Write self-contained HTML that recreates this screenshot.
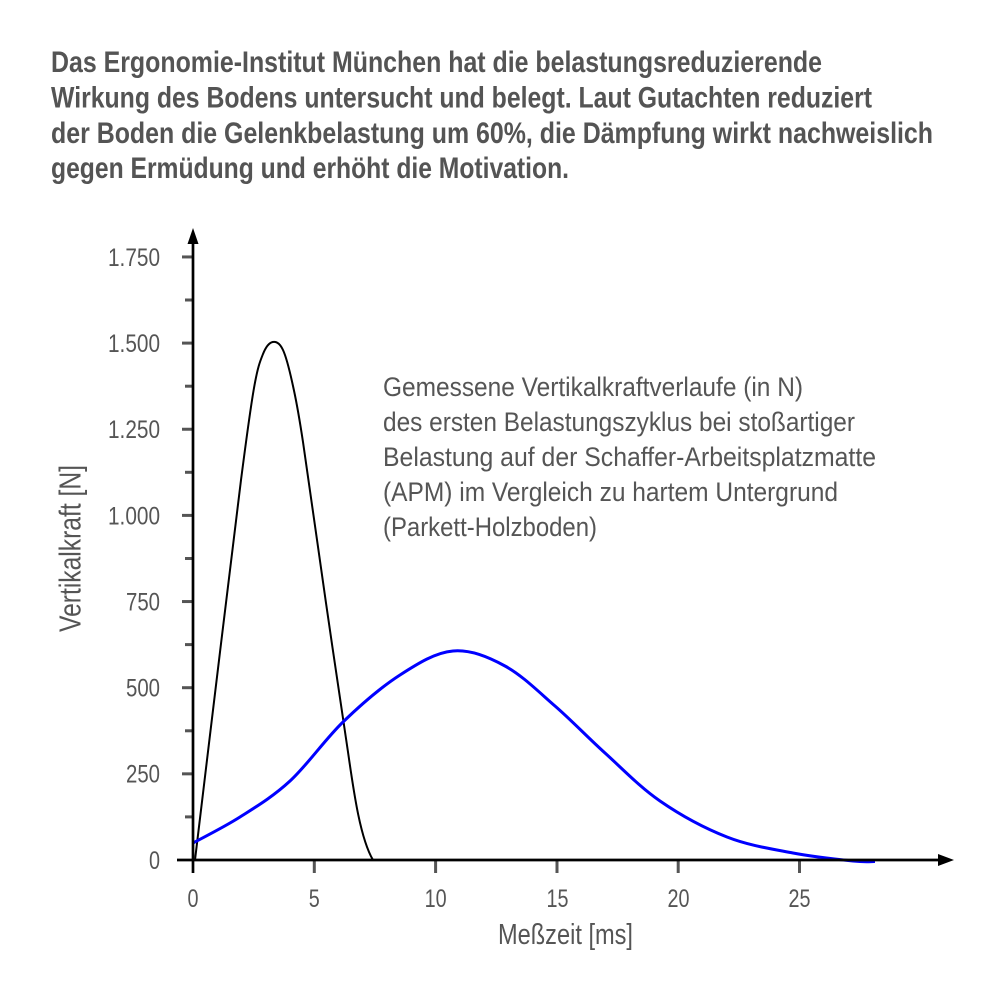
<!DOCTYPE html>
<html>
<head>
<meta charset="utf-8">
<style>
  html, body { margin: 0; padding: 0; background: #ffffff; }
  body { width: 1000px; height: 1000px; overflow: hidden; }
  svg { display: block; }
  text { font-family: "Liberation Sans", "DejaVu Sans", sans-serif; }
</style>
</head>
<body>
<svg width="1000" height="1000" viewBox="0 0 1000 1000" xmlns="http://www.w3.org/2000/svg">
  <rect x="0" y="0" width="1000" height="1000" fill="#ffffff"/>

  <!-- Title -->
  <g fill="#545454" font-weight="bold" font-size="30">
    <text x="51" y="72" textLength="771" lengthAdjust="spacingAndGlyphs">Das Ergonomie-Institut München hat die belastungsreduzierende</text>
    <text x="51" y="107.5" textLength="821" lengthAdjust="spacingAndGlyphs">Wirkung des Bodens untersucht und belegt. Laut Gutachten reduziert</text>
    <text x="51" y="143" textLength="882" lengthAdjust="spacingAndGlyphs">der Boden die Gelenkbelastung um 60%, die Dämpfung wirkt nachweislich</text>
    <text x="51" y="178" textLength="518" lengthAdjust="spacingAndGlyphs">gegen Ermüdung und erhöht die Motivation.</text>
  </g>

  <!-- Annotation -->
  <g fill="#555555" font-size="27">
    <text x="383" y="396" textLength="420" lengthAdjust="spacingAndGlyphs">Gemessene Vertikalkraftverlaufe (in N)</text>
    <text x="383" y="431" textLength="472" lengthAdjust="spacingAndGlyphs">des ersten Belastungszyklus bei stoßartiger</text>
    <text x="383" y="466" textLength="493" lengthAdjust="spacingAndGlyphs">Belastung auf der Schaffer-Arbeitsplatzmatte</text>
    <text x="383" y="501" textLength="455" lengthAdjust="spacingAndGlyphs">(APM) im Vergleich zu hartem Untergrund</text>
    <text x="383" y="536" textLength="214" lengthAdjust="spacingAndGlyphs">(Parkett-Holzboden)</text>
  </g>

  <!-- Y ticks (major) -->
  <g stroke="#555555" stroke-width="3">
    <line x1="182" y1="773.85" x2="193" y2="773.85"/>
    <line x1="182" y1="687.7" x2="193" y2="687.7"/>
    <line x1="182" y1="601.55" x2="193" y2="601.55"/>
    <line x1="182" y1="515.4" x2="193" y2="515.4"/>
    <line x1="182" y1="429.25" x2="193" y2="429.25"/>
    <line x1="182" y1="343.1" x2="193" y2="343.1"/>
    <line x1="182" y1="256.95" x2="193" y2="256.95"/>
    <!-- minor -->
    <line x1="185" y1="816.9" x2="193" y2="816.9"/>
    <line x1="185" y1="730.8" x2="193" y2="730.8"/>
    <line x1="185" y1="644.6" x2="193" y2="644.6"/>
    <line x1="185" y1="558.5" x2="193" y2="558.5"/>
    <line x1="185" y1="472.3" x2="193" y2="472.3"/>
    <line x1="185" y1="386.2" x2="193" y2="386.2"/>
    <line x1="185" y1="300.0" x2="193" y2="300.0"/>
  </g>

  <!-- X ticks -->
  <g stroke="#555555" stroke-width="3">
    <line x1="314.3" y1="860" x2="314.3" y2="873"/>
    <line x1="435.6" y1="860" x2="435.6" y2="873"/>
    <line x1="557" y1="860" x2="557" y2="873"/>
    <line x1="678.2" y1="860" x2="678.2" y2="873"/>
    <line x1="799.5" y1="860" x2="799.5" y2="873"/>
  </g>

  <!-- Y tick labels -->
  <g fill="#555555" font-size="25" text-anchor="end">
    <text x="160" y="869" textLength="11" lengthAdjust="spacingAndGlyphs">0</text>
    <text x="160" y="782.7" textLength="34" lengthAdjust="spacingAndGlyphs">250</text>
    <text x="160" y="696.6" textLength="34" lengthAdjust="spacingAndGlyphs">500</text>
    <text x="160" y="610.4" textLength="34" lengthAdjust="spacingAndGlyphs">750</text>
    <text x="160" y="524.3" textLength="52" lengthAdjust="spacingAndGlyphs">1.000</text>
    <text x="160" y="438.1" textLength="52" lengthAdjust="spacingAndGlyphs">1.250</text>
    <text x="160" y="352" textLength="52" lengthAdjust="spacingAndGlyphs">1.500</text>
    <text x="160" y="265.8" textLength="52" lengthAdjust="spacingAndGlyphs">1.750</text>
  </g>

  <!-- X tick labels -->
  <g fill="#555555" font-size="25" text-anchor="middle">
    <text x="193" y="907" textLength="11" lengthAdjust="spacingAndGlyphs">0</text>
    <text x="314.3" y="907" textLength="11" lengthAdjust="spacingAndGlyphs">5</text>
    <text x="435.6" y="907" textLength="22" lengthAdjust="spacingAndGlyphs">10</text>
    <text x="557.5" y="907" textLength="22" lengthAdjust="spacingAndGlyphs">15</text>
    <text x="678.5" y="907" textLength="22" lengthAdjust="spacingAndGlyphs">20</text>
    <text x="799.5" y="907" textLength="22" lengthAdjust="spacingAndGlyphs">25</text>
  </g>

  <!-- Axis labels -->
  <text x="498" y="944" fill="#555555" font-size="29" textLength="135" lengthAdjust="spacingAndGlyphs">Meßzeit [ms]</text>
  <text transform="translate(80.5,632) rotate(-90)" x="0" y="0" fill="#555555" font-size="31" textLength="167" lengthAdjust="spacingAndGlyphs">Vertikalkraft [N]</text>

  <!-- Black curve (hard floor) -->
  <path fill="none" stroke="#000000" stroke-width="2" stroke-linejoin="round" stroke-linecap="round"
    d="M195,860 C199.2,825.3 212.3,715.3 220,652 C227.7,588.7 235.3,524 241,480 C246.7,436 250.3,409 254,388 C257.7,367 259.9,361.7 263,354 C266.1,346.3 269.4,342.7 272.7,342 C276,341.3 279.6,342.7 283,350 C286.4,357.3 289.7,370.7 293,386 C296.3,401.3 297.5,405.8 303,442 C308.5,478.2 318.5,551.3 326,603 C333.5,654.7 342.5,715.8 348,752 C353.5,790 360,838 373,860"/>

  <!-- Blue curve (mat) -->
  <path fill="none" stroke="#0000ff" stroke-width="3" stroke-linejoin="round" stroke-linecap="butt"
    d="M193,843 C200.8,838.7 223.8,827.3 240,817 C256.2,806.7 272.8,796.8 290,781 C307.2,765.2 324.7,739.7 343,722 C361.3,704.3 381.7,686.8 400,675 C418.3,663.2 435.5,652.5 453,651 C470.5,649.5 488,656.8 505,666 C522,675.2 538.3,691.5 555,706 C571.7,720.5 587.5,737.2 605,753 C622.5,768.8 639.7,787 660,801 C680.3,815 704.8,828.3 727,837 C749.2,845.7 772,849 793,853 C814,857 839.3,859.6 853,861 C866.7,862.4 871.3,861.4 875,861.5"/>

  <!-- Axes -->
  <g stroke="#000000" stroke-width="2.7">
    <line x1="193" y1="873" x2="193" y2="240"/>
    <line x1="177" y1="860" x2="940" y2="860"/>
  </g>
  <polygon points="187.5,244 193,228 198.5,244" fill="#000000"/>
  <polygon points="938,854 954,860 938,866" fill="#000000"/>
</svg>
</body>
</html>
